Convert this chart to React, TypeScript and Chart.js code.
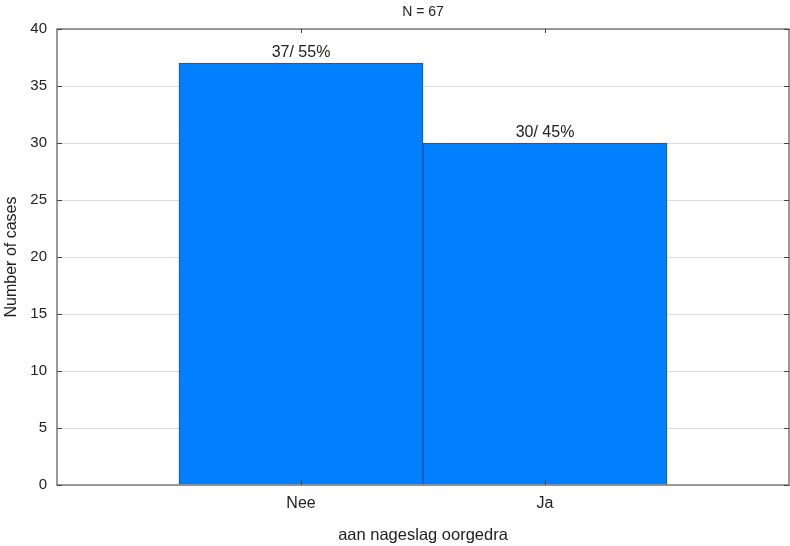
import { useEffect, useRef } from 'react';
import { Chart, registerables } from 'chart.js';

Chart.register(...registerables);

const categories = ['', 'Nee', 'Ja', ''];
const counts: (number | null)[] = [null, 37, 30, null];
const barLabels = ['', '37/ 55%', '30/ 45%', ''];
const yMin = 0;
const yMax = 40;
const yStep = 5;
const chartTitle = 'N = 67';
const xTitle = 'aan nageslag oorgedra';
const yTitle = 'Number of cases';

const FONT = '"Liberation Sans", Arial, sans-serif';

const decorPlugin = {
  id: 'decor',
  afterDatasetsDraw(chart: any) {
    const { ctx, chartArea } = chart;
    const { left, right, top, bottom } = chartArea;
    const xs = chart.scales.x;
    const ys = chart.scales.y;
    ctx.save();
    // frame
    ctx.strokeStyle = '#7a7a7a';
    ctx.lineWidth = 1.5;
    ctx.strokeRect(left, top, right - left, bottom - top);
    // inward tick marks
    ctx.strokeStyle = '#444';
    ctx.lineWidth = 1;
    ctx.beginPath();
    ys.ticks.forEach((t: any) => {
      const y = Math.round(ys.getPixelForValue(t.value)) + 0.5;
      ctx.moveTo(left, y);
      ctx.lineTo(left + 5, y);
      ctx.moveTo(right, y);
      ctx.lineTo(right - 5, y);
    });
    categories.forEach((c, i) => {
      if (!c) return;
      const x = Math.round(xs.getPixelForValue(i)) + 0.5;
      ctx.moveTo(x, bottom);
      ctx.lineTo(x, bottom - 5);
      ctx.moveTo(x, top);
      ctx.lineTo(x, top + 4);
    });
    ctx.stroke();
    // bar labels
    const meta = chart.getDatasetMeta(0);
    ctx.fillStyle = '#222';
    ctx.font = `16px ${FONT}`;
    ctx.textAlign = 'center';
    ctx.textBaseline = 'alphabetic';
    meta.data.forEach((el: any, i: number) => {
      if (counts[i] == null) return;
      ctx.fillText(barLabels[i], el.x, el.y - 6);
    });
    // titles
    const cx = (left + right) / 2;
    ctx.font = `14px ${FONT}`;
    ctx.textBaseline = 'middle';
    ctx.fillText(chartTitle, cx, 12);
    ctx.font = `16.5px ${FONT}`;
    ctx.fillText(xTitle, cx, 535);
    ctx.translate(12, (top + bottom) / 2);
    ctx.rotate(-Math.PI / 2);
    ctx.font = `16px ${FONT}`;
    ctx.fillText(yTitle, 0, 0);
    ctx.restore();
  },
};

export default function App() {
  const ref = useRef<HTMLCanvasElement>(null);
  useEffect(() => {
    document.body.style.margin = '0';
    const chart = new Chart(ref.current!, {
      type: 'bar',
      data: {
        labels: categories,
        datasets: [
          {
            data: counts,
            backgroundColor: '#0080FF',
            borderColor: '#1F4FA0',
            borderWidth: 1,
            barPercentage: 1,
            categoryPercentage: 1,
          },
        ],
      },
      options: {
        responsive: false,
        animation: false,
        layout: { padding: { top: 29, right: 1, left: 0, bottom: 0 } },
        plugins: { legend: { display: false }, tooltip: { enabled: false }, title: { display: false } },
        scales: {
          x: {
            type: 'category',
            offset: false,
            grid: { display: false, drawTicks: false, offset: false },
            border: { display: false },
            ticks: { color: '#222', font: { family: FONT, size: 16 }, padding: 9, maxRotation: 0, autoSkip: false },
            afterFit: (s: any) => {
              s.height = 61;
              s.paddingLeft = 0;
              s.paddingRight = 0;
            },
          },
          y: {
            min: yMin,
            max: yMax,
            grid: { color: '#dcdcdc', drawTicks: false },
            border: { display: false },
            ticks: { stepSize: yStep, color: '#222', font: { family: FONT, size: 15 }, padding: 10 },
            afterFit: (s: any) => {
              s.width = 57;
              s.paddingTop = 0;
              s.paddingBottom = 0;
            },
          },
        },
      },
      plugins: [decorPlugin],
    });
    return () => chart.destroy();
  }, []);
  return (
    <div style={{ position: 'absolute', left: 0, top: 0, width: 790, height: 546 }}>
      <canvas ref={ref} width={790} height={546} />
    </div>
  );
}
